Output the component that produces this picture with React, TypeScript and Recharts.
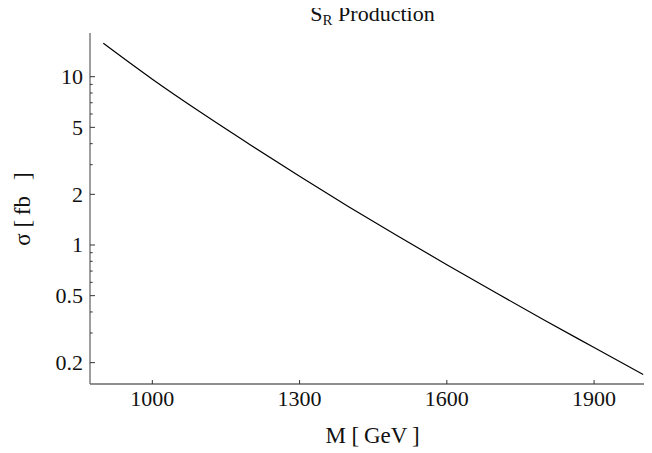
import React from "react";
import { LineChart, Line, XAxis, YAxis } from "recharts";

const masses = [900, 1000, 1100, 1200, 1300, 1400, 1500, 1600, 1700, 1800, 1900, 2000];
const sigma = [15.8, 9.66, 6.1, 3.93, 2.56, 1.69, 1.13, 0.764, 0.52, 0.356, 0.246, 0.17];

const xTicks = [1000, 1300, 1600, 1900];
const yMajor = [0.2, 0.5, 1, 2, 5, 10];
const yTicks = [0.2, 0.3, 0.4, 0.5, 0.6, 0.7, 0.8, 0.9, 1, 2, 3, 4, 5, 6, 7, 8, 9, 10];

const data = masses.map((m, i) => ({ m, s: sigma[i] }));

const W = 644;
const H = 445;
const LEFT = 82;
const TOP = 25;
const BOTTOM = 69;
const AXIS_Y = H - BOTTOM;
const FONT = "'Liberation Serif', 'Times New Roman', serif";
const AXIS_COLOR = "#6a6a6a";
const TICK_FS = 22;
const LABEL_FS = 23;

const YTick = (props: any) => {
  const { y, payload } = props;
  const v = payload.value;
  const major = yMajor.includes(v);
  return (
    <g>
      <line x1={LEFT} x2={LEFT + (major ? 5 : 2.7)} y1={y} y2={y} stroke="#333" strokeWidth={1} />
      {major && (
        <text x={LEFT - 7} y={y + 7.4} textAnchor="end" fontFamily={FONT} fontSize={TICK_FS} fill="#111">
          {String(v)}
        </text>
      )}
    </g>
  );
};

const XTick = (props: any) => {
  const { x, payload } = props;
  return (
    <g>
      <line x1={x} x2={x} y1={AXIS_Y} y2={AXIS_Y - 4} stroke="#333" strokeWidth={1} />
      <text x={x} y={AXIS_Y + 21.5} textAnchor="middle" fontFamily={FONT} fontSize={TICK_FS} fill="#111">
        {String(payload.value)}
      </text>
    </g>
  );
};

export default function App() {
  return (
    <div style={{ position: "relative", width: W, height: H }}>
      <LineChart
        width={W}
        height={H}
        data={data}
        margin={{ top: TOP, right: 0, bottom: 0, left: 0 }}
      >
        <XAxis
          dataKey="m"
          type="number"
          domain={[873, 2018]}
          allowDataOverflow
          ticks={xTicks}
          tick={<XTick />}
          tickLine={false}
          axisLine={{ stroke: AXIS_COLOR, strokeWidth: 1.3 }}
          height={BOTTOM}
        />
        <XAxis
          xAxisId="top"
          orientation="top"
          dataKey="m"
          type="number"
          domain={[873, 2018]}
          allowDataOverflow
          tick={false}
          tickLine={false}
          axisLine={{ stroke: "#444", strokeWidth: 1.3 }}
          height={0}
        />
        <YAxis
          dataKey="s"
          type="number"
          scale="log"
          domain={[0.1493, 18.18]}
          allowDataOverflow
          ticks={yTicks}
          interval={0}
          tick={<YTick />}
          tickLine={false}
          axisLine={{ stroke: AXIS_COLOR, strokeWidth: 1.3 }}
          width={LEFT}
        />
        <Line
          type="monotone"
          dataKey="s"
          stroke="#000"
          strokeWidth={1.2}
          dot={false}
          isAnimationActive={false}
        />
      </LineChart>
      <svg
        width={W}
        height={H + 8}
        style={{ position: "absolute", left: 0, top: -8, pointerEvents: "none" }}
      >
        <text x={364.5} y={21} textAnchor="middle" fontFamily={FONT} fontSize={22} fill="#111">
          S
          <tspan fontSize={15} dy={3.5}>R</tspan>
          <tspan dy={-3.5}> Production</tspan>
        </text>
        <text x={364.5} y={443} textAnchor="middle" fontFamily={FONT} fontSize={LABEL_FS} fill="#111">
          {"M [\u2009GeV\u2009]"}
        </text>
        <text
          x={0}
          y={0}
          transform="translate(22,209) rotate(-90)"
          textAnchor="middle"
          fontFamily={FONT}
          fontSize={LABEL_FS}
          fill="#111"
        >
          {"σ [\u2009fb\u2002\u2009]"}
        </text>
      </svg>
    </div>
  );
}
